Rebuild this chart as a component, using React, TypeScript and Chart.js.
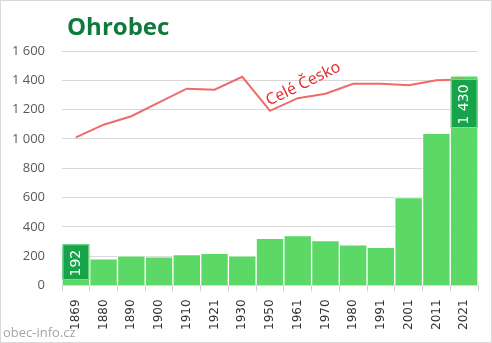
import React, { useEffect, useRef } from "react";
import { Chart, registerables } from "chart.js";

Chart.register(...registerables);

const categories = ["1869", "1880", "1890", "1900", "1910", "1921", "1930", "1950", "1961", "1970", "1980", "1991", "2001", "2011", "2021"];
const obyvatele = [192, 181, 203, 196, 210, 219, 203, 322, 340, 306, 278, 260, 599, 1039, 1430];
const celeCesko = [1010, 1097, 1155, 1249, 1343, 1336, 1424, 1192, 1278, 1308, 1376, 1376, 1367, 1400, 1405];
const highlighted = [0, 14];
const yMax = 1600;
const yStep = 200;
const lineLabel = "Celé Česko";
const lineLabelAt = { index: 8.2, value: 1375 };

const fmt = (v: number) => String(v).replace(/\B(?=(\d{3})+(?!\d))/g, " ");

const labelPlugin = {
  id: "customLabels",
  afterDatasetsDraw(chart: any) {
    const ctx = chart.ctx;
    const meta = chart.getDatasetMeta(0);
    const xs = chart.scales.x;
    const ys = chart.scales.y;
    const catW = (xs.right - xs.left) / categories.length;
    // line label
    ctx.save();
    const lx = xs.getPixelForValue(lineLabelAt.index);
    const ly = ys.getPixelForValue(lineLabelAt.value);
    ctx.translate(lx, ly);
    ctx.rotate((-26 * Math.PI) / 180);
    ctx.font = "16px 'Open Sans'";
    ctx.fillStyle = "#e3242b";
    ctx.textAlign = "center";
    ctx.textBaseline = "middle";
    ctx.fillText(lineLabel, 0, 0);
    ctx.restore();
    // value boxes
    highlighted.forEach((i) => {
      const bar = meta.data[i];
      const text = fmt(obyvatele[i]);
      ctx.save();
      ctx.font = "14px 'DejaVu Sans'";
      const tw = ctx.measureText(text).width;
      const h = tw + 9;
      const w = catW - 1;
      let top = bar.y + 3;
      if (top + h > bar.base - 5) top = bar.base - 5 - h;
      ctx.fillStyle = "#17a34a";
      ctx.fillRect(bar.x - w / 2, top, w, h);
      ctx.strokeStyle = "#7fe08a";
      ctx.lineWidth = 1;
      ctx.strokeRect(bar.x - w / 2 + 0.5, top + 0.5, w - 1, h - 1);
      ctx.translate(bar.x, top + h / 2 + 1);
      ctx.rotate(-Math.PI / 2);
      ctx.fillStyle = "#ffffff";
      ctx.textAlign = "center";
      ctx.textBaseline = "middle";
      ctx.fillText(text, 0, 0);
      ctx.restore();
    });
  },
};

export default function App() {
  const ref = useRef<HTMLCanvasElement>(null);
  useEffect(() => {
    document.body.style.margin = "0";
    const chart = new Chart(ref.current!, {
      type: "bar",
      data: {
        labels: categories,
        datasets: [
          {
            type: "bar",
            data: obyvatele,
            backgroundColor: "#5bd865",
            borderColor: "rgba(255,255,255,0.75)",
            borderWidth: 1,
            barPercentage: 1,
            categoryPercentage: 1,
            order: 2,
          },
          {
            type: "line",
            data: celeCesko,
            borderColor: "#ef6a6a",
            borderWidth: 2,
            pointRadius: 0,
            tension: 0,
            order: 1,
          } as any,
        ],
      },
      options: {
        animation: false,
        responsive: false,
        layout: { padding: { top: 51, left: 12, right: 14, bottom: 5 } },
        plugins: { legend: { display: false }, tooltip: { enabled: false }, title: { display: false } },
        scales: {
          x: {
            grid: { drawOnChartArea: false, tickLength: 6, color: "#d0d0d0", offset: true },
            border: { color: "#d9d9d9" },
            afterFit: (s: any) => {
              s.paddingLeft = 0;
              s.paddingRight = 0;
            },
            ticks: {
              maxRotation: 90,
              minRotation: 90,
              padding: 8,
              color: "#333333",
              font: { family: "'DejaVu Sans'", size: 12 },
            },
          },
          y: {
            min: 0,
            max: yMax,
            afterFit: (s: any) => {
              s.width = 50;
            },
            ticks: {
              stepSize: yStep,
              padding: 17,
              color: "#595959",
              font: { family: "'Open Sans'", size: 13 },
              callback: (v: any) => fmt(Number(v)),
            },
            grid: { color: "#d9d9d9", drawTicks: false },
            border: { display: false },
          },
        },
      },
      plugins: [labelPlugin],
    });
    return () => chart.destroy();
  }, []);
  return (
    <div style={{ position: "fixed", left: 0, top: 0, width: 492, height: 343, background: "#fff" }}>
      <canvas ref={ref} width={492} height={343} style={{ position: "absolute", left: 0, top: 0 }} />
      <div
        style={{
          position: "absolute",
          left: 67,
          top: 14,
          fontFamily: "'Open Sans'",
          fontWeight: 700,
          fontSize: 24,
          lineHeight: 1,
          color: "#0e7a3c",
        }}
      >
        Ohrobec
      </div>
      <div
        style={{
          position: "absolute",
          left: 3,
          top: 326,
          fontFamily: "'Open Sans'",
          fontSize: 13,
          lineHeight: 1,
          color: "#a6a6a6",
        }}
      >
        obec-info.cz
      </div>
      <div
        style={{
          position: "absolute",
          left: 0,
          top: 0,
          width: 492,
          height: 343,
          boxSizing: "border-box",
          border: "1px solid #d9d9d9",
          pointerEvents: "none",
        }}
      />
    </div>
  );
}
